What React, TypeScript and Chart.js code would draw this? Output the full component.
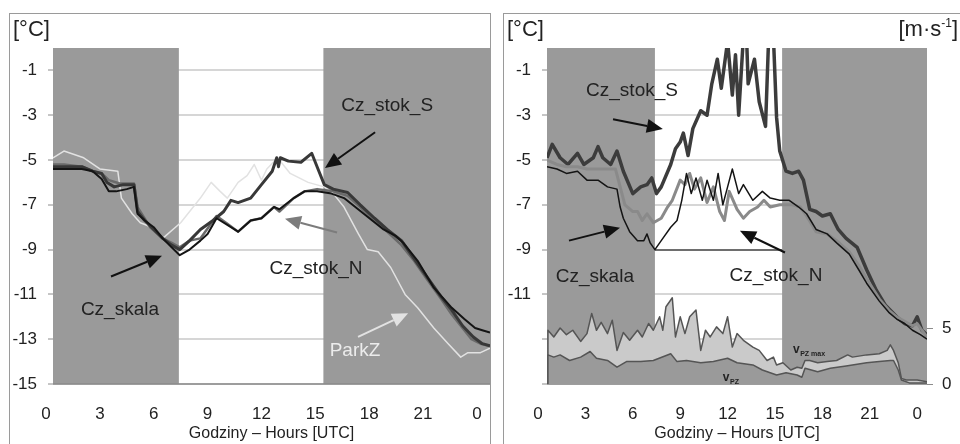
import React, { useEffect, useRef } from 'react';
import { Chart, registerables } from 'chart.js';

Chart.register(...registerables);

const FONT = '"Liberation Sans", Arial, Helvetica, sans-serif';
const BAND = '#9a9a9a';

// ---------- axes ----------
const HOUR_TICKS = [0, 3, 6, 9, 12, 15, 18, 21, 24];
const TEMP_TICKS = [-15, -13, -11, -9, -7, -5, -3, -1];
const WIND_TICKS = [0, 5];
const DAYLIGHT = [7.4, 15.45];

// ---------- left panel ----------
const L_SKALA_H = [0.39, 1, 2, 2.6, 3.1, 3.5, 3.9, 4.5, 4.9, 5.1, 5.5, 6, 6.5, 7, 7.45, 8, 8.6, 9, 9.5, 10.1, 10.7, 11.4, 12, 12.7, 13, 13.8, 14.4, 15.1, 15.9, 16.6, 17.7, 18.8, 19.5, 19.9, 20.7, 21.6, 22.6, 23.3, 23.9, 24.3, 24.73];
const L_SKALA_V = [-5.4, -5.4, -5.4, -5.5, -5.85, -6.4, -6.4, -6.3, -6.2, -7.4, -7.7, -8.0, -8.5, -8.9, -9.25, -9.0, -8.6, -8.3, -7.6, -7.9, -8.2, -7.7, -7.6, -7.1, -7.2, -6.7, -6.4, -6.4, -6.5, -6.7, -7.4, -8.1, -8.4, -8.7, -9.5, -10.7, -11.6, -12.1, -12.5, -12.6, -12.7];

const L_STOKS_H = [0.39, 1, 2, 2.6, 3.1, 3.4, 3.8, 4.3, 4.9, 5.1, 5.5, 6, 6.5, 7, 7.45, 8, 8.6, 9.3, 9.9, 10.3, 10.7, 11.4, 12, 12.6, 12.85, 12.95, 13.05, 13.5, 14.2, 14.8, 15.2, 15.5, 16, 16.8, 17.5, 18.3, 19, 19.8, 20.5, 21.2, 22, 22.6, 23.2, 23.8, 24.3, 24.73];
const L_STOKS_V = [-5.3, -5.3, -5.3, -5.5, -5.6, -6.0, -6.2, -6.1, -6.1, -7.3, -7.7, -8.1, -8.5, -8.8, -9.0, -8.6, -8.1, -7.7, -7.3, -6.8, -6.9, -6.7, -6.1, -5.5, -4.9, -5.3, -4.9, -5.05, -5.1, -4.7, -5.5, -6.1, -6.3, -6.45, -7.0, -7.6, -8.1, -8.6, -9.4, -10.2, -11.1, -11.7, -12.4, -12.9, -13.2, -13.3];

const L_STOKN_H = [0.39, 1, 2, 2.6, 3.1, 3.5, 4.1, 4.9, 5.1, 5.8, 6.5, 7, 7.45, 8, 8.6, 9.5, 10.1, 10.7, 11.4, 12, 12.7, 13, 13.8, 14.4, 15.1, 16, 16.8, 17.5, 18.3, 19, 19.8, 20.5, 21.2, 22, 22.6, 23.2, 23.7, 24.2, 24.73];
const L_STOKN_V = [-5.2, -5.2, -5.3, -5.5, -5.6, -5.9, -6.05, -6.05, -7.1, -8.0, -8.5, -8.7, -8.9, -8.6, -8.5, -7.5, -7.85, -8.2, -7.7, -7.6, -7.1, -7.3, -6.7, -6.4, -6.3, -6.4, -6.6, -7.1, -7.7, -8.2, -8.8, -9.5, -10.3, -11.2, -11.9, -12.5, -13.0, -13.2, -13.3];

const L_PARKZ_H = [0.39, 1, 2.1, 3, 4, 4.2, 4.8, 5.25, 5.9, 6.5, 7.5, 8.6, 9.2, 9.7, 10.1, 10.7, 11.2, 11.6, 12, 12.3, 12.9, 13.6, 14.6, 15.5, 16, 16.6, 17.4, 17.9, 18.5, 19.2, 20, 20.7, 21.6, 22.4, 23.1, 23.5, 24.2, 24.73];
const L_PARKZ_V = [-4.9, -4.6, -4.9, -5.4, -5.5, -6.7, -7.4, -7.8, -8.0, -8.5, -7.8, -6.7, -6.0, -6.4, -6.7, -6.0, -5.7, -5.2, -5.9, -5.4, -4.9, -5.6, -6.0, -6.2, -6.5, -7.1, -8.3, -9.0, -9.1, -9.8, -11.0, -11.6, -12.5, -13.2, -13.8, -13.6, -13.6, -13.4];

// ---------- right panel ----------
const R_STOKS_H = [0.57, 0.9, 1.4, 1.9, 2.5, 2.9, 3.5, 3.8, 4.1, 4.6, 5.0, 5.4, 6.0, 6.5, 6.9, 7.2, 7.5, 7.8, 8.4, 8.7, 9.0, 9.2, 9.5, 9.8, 10.3, 10.7, 11.0, 11.35, 11.6, 12.0, 12.3, 12.5, 12.7, 13.0, 13.2, 13.3, 13.7, 14.0, 14.4, 14.6, 14.9, 15.1, 15.3, 15.7, 16.1, 16.5, 16.8, 17.2, 17.6, 18.0, 18.5, 19.0, 19.5, 20.2, 20.8, 21.4, 22.0, 22.7, 23.2, 23.7, 24.0, 24.3, 24.62];
const R_STOKS_V = [-4.9, -4.3, -4.9, -5.2, -4.7, -5.2, -4.9, -4.4, -4.9, -5.2, -4.6, -5.5, -6.5, -6.2, -6.1, -5.8, -6.5, -6.2, -5.2, -4.5, -4.2, -3.8, -4.8, -3.6, -2.8, -3.0, -1.6, -0.5, -1.8, 0.3, -2.1, -0.3, -3.0, 0.5, 0.5, -1.6, -0.5, -2.4, -3.5, 0.5, 0.5, -3.1, -4.6, -5.5, -5.6, -5.5, -5.9, -7.2, -7.3, -7.5, -7.4, -8.1, -8.5, -8.9, -9.9, -10.8, -11.5, -12.0, -12.3, -12.4, -12.0, -12.6, -12.8];

const R_SKALA_H = [0.57, 1.2, 1.8, 2.5, 3.1, 3.8, 4.4, 5.0, 5.2, 5.4, 5.8, 6.3, 6.7, 6.9, 7.1, 7.4, 7.8, 8.4, 8.8, 9.1, 9.4, 9.7, 10.0, 10.4, 10.7, 11.1, 11.4, 11.7, 12.0, 12.3, 12.7, 13.0, 13.6, 14.2, 14.7, 15.3, 15.9, 16.5, 17.0, 17.6, 18.3, 18.9, 19.7, 20.3, 20.8, 21.6, 22.2, 22.7, 23.2, 23.7, 24.2, 24.62];
const R_SKALA_V = [-5.3, -5.4, -5.6, -5.5, -5.9, -5.9, -6.2, -6.3, -7.1, -7.6, -8.2, -8.6, -8.6, -8.3, -8.7, -9.0, -8.6, -8.0, -7.7, -6.8, -5.6, -6.5, -5.8, -6.8, -5.9, -6.8, -5.6, -7.0, -6.2, -5.4, -6.5, -6.1, -6.8, -6.4, -6.7, -6.8, -6.8, -7.1, -7.4, -8.1, -8.3, -8.7, -9.2, -9.9, -10.5, -11.3, -11.8, -12.1, -12.3, -12.6, -12.8, -13.0];

const R_STOKN_H = [0.57, 1.2, 1.8, 2.5, 3.1, 3.8, 4.4, 4.9, 5.2, 5.5, 6.0, 6.3, 6.6, 6.9, 7.3, 7.8, 8.2, 8.5, 9.0, 9.3, 9.6, 9.9, 10.3, 10.7, 11.1, 11.5, 11.8, 12.1, 12.6, 13.0, 13.4, 13.9, 14.3, 14.7, 15.3, 16.1, 16.6, 17.0, 17.6, 18.3, 18.9, 19.7, 20.3, 20.8, 21.6, 22.2, 22.7, 23.2, 23.7, 24.0, 24.3, 24.62];
const R_STOKN_V = [-5.0, -5.2, -5.3, -5.3, -5.4, -5.4, -5.4, -5.4, -6.2, -7.0, -7.3, -7.3, -7.7, -7.4, -7.8, -7.6, -7.1, -6.8, -5.9, -6.1, -5.6, -6.3, -5.8, -6.9, -6.2, -7.3, -7.7, -6.4, -7.2, -7.6, -7.3, -7.1, -6.8, -7.1, -7.0, -7.0, -7.1, -7.5, -8.2, -8.3, -8.6, -9.1, -9.7, -10.3, -11.2, -11.7, -12.0, -12.2, -12.4, -12.3, -12.6, -12.9];

const R_VMAX_H = [0.57, 0.63, 1.0, 1.4, 1.8, 2.2, 2.7, 3.1, 3.4, 3.7, 4.0, 4.4, 4.7, 5.0, 5.4, 5.8, 6.3, 6.6, 7.0, 7.3, 7.7, 7.9, 8.1, 8.5, 8.7, 9.0, 9.3, 9.6, 10.0, 10.3, 10.6, 10.9, 11.3, 11.7, 12.0, 12.3, 12.6, 13.0, 13.6, 14.0, 14.5, 14.9, 15.1, 15.5, 16.0, 16.4, 16.7, 16.9, 17.2, 17.7, 18.3, 18.9, 19.6, 19.9, 20.8, 21.6, 22.1, 22.3, 22.5, 22.8, 23.0, 23.3, 24.0, 24.62];
const R_VMAX_V = [0, 4.8, 4.2, 5.0, 4.4, 4.8, 3.8, 4.5, 6.3, 4.8, 5.5, 4.5, 5.7, 3.0, 4.6, 3.9, 4.8, 4.2, 5.4, 4.8, 6.0, 4.8, 6.9, 7.7, 4.2, 6.0, 4.5, 6.0, 6.6, 3.0, 4.8, 4.2, 5.1, 4.5, 6.0, 3.3, 4.5, 3.9, 3.3, 3.0, 2.1, 2.4, 1.7, 1.9, 1.25, 1.5, 1.4, 2.1, 2.1, 1.9, 2.0, 2.1, 2.6, 2.4, 2.6, 2.7, 3.0, 3.5, 3.0, 1.9, 0.5, 0.35, 0.35, 0.2];

const R_V_H = [0.57, 0.63, 1.0, 1.4, 2.0, 2.7, 3.3, 3.7, 4.4, 5.0, 5.6, 6.5, 7.3, 8.4, 8.8, 9.4, 10.3, 11.1, 12.0, 12.6, 13.6, 14.2, 15.1, 15.7, 16.4, 16.7, 16.9, 17.7, 18.5, 19.5, 20.8, 21.6, 22.3, 22.5, 22.8, 23.0, 23.5, 24.62];
const R_V_V = [0, 2.6, 2.4, 2.6, 2.1, 2.4, 2.9, 2.3, 2.1, 1.5, 2.0, 2.0, 2.1, 2.7, 2.0, 2.1, 1.9, 2.0, 2.3, 1.9, 1.7, 1.25, 0.8, 1.0, 0.8, 0.6, 1.4, 1.1, 1.4, 1.6, 1.9, 2.0, 2.1, 2.1, 1.25, 0.35, 0.1, 0.1];

// ---------- annotations (data coordinates) ----------
const LEFT_NOTES = [
  { text: 'Cz_stok_S', at: [19.0, -2.56], color: '#222', arrow: [18.33, -3.76, 15.54, -5.36], arrowColor: '#111' },
  { text: 'Cz_stok_N', at: [15.04, -9.84], color: '#222', arrow: [16.21, -8.24, 13.31, -7.62], arrowColor: '#7c7c7c' },
  { text: 'Cz_skala', at: [4.12, -11.67], color: '#222', arrow: [3.62, -10.2, 6.46, -9.27], arrowColor: '#111' },
  { text: 'ParkZ', at: [17.21, -13.53], color: '#ececec', arrow: [17.38, -12.9, 20.17, -11.84], arrowColor: '#e2e2e2' },
];
const RIGHT_NOTES = [
  { text: 'Cz_stok_S', at: [5.95, -1.89], color: '#222', arrow: [4.75, -3.18, 7.9, -3.62], arrowColor: '#111' },
  { text: 'Cz_skala', at: [3.6, -10.2], color: '#222', arrow: [1.96, -8.6, 5.19, -8.02], arrowColor: '#111' },
  { text: 'Cz_stok_N', at: [15.06, -10.16], color: '#222', arrow: [15.63, -9.13, 12.78, -8.16], arrowColor: '#111' },
];
const WIND_NOTES = [
  { main: 'v', sub: 'PZ max', at: [16.14, 3.1] },
  { main: 'v', sub: 'PZ', at: [11.7, 0.6] },
];

const pts = (h: number[], v: number[]) => h.map((x, i) => ({ x, y: v[i] }));

function drawArrow(ctx: CanvasRenderingContext2D, x1: number, y1: number, x2: number, y2: number, color: string) {
  const ang = Math.atan2(y2 - y1, x2 - x1);
  const head = 16, hw = 7;
  const bx = x2 - head * Math.cos(ang);
  const by = y2 - head * Math.sin(ang);
  ctx.save();
  ctx.strokeStyle = color;
  ctx.fillStyle = color;
  ctx.lineWidth = 2;
  ctx.beginPath();
  ctx.moveTo(x1, y1);
  ctx.lineTo(bx, by);
  ctx.stroke();
  ctx.beginPath();
  ctx.moveTo(x2, y2);
  ctx.lineTo(bx + hw * Math.sin(ang), by - hw * Math.cos(ang));
  ctx.lineTo(bx - hw * Math.sin(ang), by + hw * Math.cos(ang));
  ctx.closePath();
  ctx.fill();
  ctx.restore();
}

function overlay(notes: any[], wind: any[] | null, unitRight: boolean) {
  return {
    id: 'overlay',
    beforeDatasetsDraw(chart: any) {
      const { ctx, chartArea: a, scales } = chart;
      const x = scales.x;
      const d0 = x.getPixelForValue(DAYLIGHT[0]);
      const d1 = x.getPixelForValue(DAYLIGHT[1]);
      ctx.save();
      ctx.fillStyle = BAND;
      ctx.fillRect(a.left, a.top, d0 - a.left, a.bottom - a.top);
      ctx.fillRect(d1, a.top, a.right - d1, a.bottom - a.top);
      ctx.strokeStyle = '#8a8a8a';
      ctx.lineWidth = 1.5;
      ctx.beginPath();
      ctx.moveTo(a.left, a.bottom);
      ctx.lineTo(a.right, a.bottom);
      ctx.stroke();
      ctx.restore();
    },
    afterDatasetsDraw(chart: any) {
      const { ctx, scales } = chart;
      const x = scales.x, y = scales.y;
      ctx.save();
      ctx.font = `19px ${FONT}`;
      ctx.textAlign = 'center';
      ctx.textBaseline = 'middle';
      for (const n of notes) {
        const [ax1, ay1, ax2, ay2] = n.arrow;
        drawArrow(ctx, x.getPixelForValue(ax1), y.getPixelForValue(ay1), x.getPixelForValue(ax2), y.getPixelForValue(ay2), n.arrowColor);
        ctx.fillStyle = n.color;
        ctx.fillText(n.text, x.getPixelForValue(n.at[0]), y.getPixelForValue(n.at[1]));
      }
      if (wind) {
        const y1 = scales.y1;
        ctx.textAlign = 'left';
        ctx.fillStyle = '#222';
        for (const w of wind) {
          const px = x.getPixelForValue(w.at[0]);
          const py = y1.getPixelForValue(w.at[1]);
          ctx.font = `bold 12px ${FONT}`;
          ctx.fillText(w.main, px, py);
          const mw = ctx.measureText(w.main).width;
          ctx.font = `bold 7px ${FONT}`;
          ctx.fillText(w.sub, px + mw + 0.5, py + 5);
        }
      }
      ctx.restore();
    },
    afterDraw(chart: any) {
      const { ctx, chartArea: a } = chart;
      ctx.save();
      ctx.fillStyle = '#222';
      ctx.textBaseline = 'middle';
      ctx.textAlign = 'left';
      ctx.font = `22px ${FONT}`;
      const ty = a.top - 18;
      ctx.fillText('[°C]', a.left - 40, ty);
      if (unitRight) {
        const endX = a.right + 31;
        ctx.font = `22px ${FONT}`;
        const w1 = ctx.measureText('[m·s').width;
        const w3 = ctx.measureText(']').width;
        ctx.font = `12px ${FONT}`;
        const w2 = ctx.measureText('-1').width;
        let sx = endX - (w1 + w2 + w3);
        ctx.font = `22px ${FONT}`;
        ctx.fillText('[m·s', sx, ty);
        sx += w1;
        ctx.font = `12px ${FONT}`;
        ctx.fillText('-1', sx, ty - 6);
        sx += w2;
        ctx.font = `22px ${FONT}`;
        ctx.fillText(']', sx, ty);
      }
      ctx.restore();
    },
  };
}

const tickFont = { family: FONT, size: 17 };

function xScale(min: number, max: number) {
  return {
    type: 'linear',
    min,
    max,
    afterBuildTicks: (s: any) => { s.ticks = HOUR_TICKS.map((v) => ({ value: v })); },
    afterFit: (s: any) => { s.height = 60; s.paddingLeft = 0; s.paddingRight = 0; },
    grid: { display: false, drawTicks: false },
    border: { display: false },
    ticks: {
      autoSkip: false, maxRotation: 0, minRotation: 0, padding: 20, color: '#222', font: tickFont,
      callback: (v: any) => String(Number(v) % 24),
    },
    title: {
      display: true, text: 'Godziny – Hours [UTC]', color: '#222',
      font: { family: FONT, size: 16 }, padding: { top: 0, bottom: 1 },
    },
  };
}

function tempScale(hideBelow: number, darkNine: boolean) {
  return {
    type: 'linear',
    position: 'left',
    min: -15,
    max: 0,
    afterBuildTicks: (s: any) => { s.ticks = TEMP_TICKS.map((v) => ({ value: v })); },
    afterFit: (s: any) => { s.width = 43; },
    grid: {
      color: (c: any) => (darkNine && c.tick && c.tick.value === -9 ? '#6e6e6e' : '#d6d6d6'),
      lineWidth: 2, tickLength: 5, tickColor: '#8c8c8c', tickWidth: 1,
    },
    border: { display: false },
    ticks: {
      padding: 11, color: '#222', font: tickFont,
      callback: (v: any) => (Number(v) < hideBelow ? '' : String(v)),
    },
  };
}

const line = (label: string, h: number[], v: number[], color: string, width: number, extra: any = {}) => ({
  label, data: pts(h, v), borderColor: color, borderWidth: width, pointRadius: 0,
  tension: 0, fill: false, borderJoinStyle: 'round', ...extra,
});

function leftConfig(): any {
  return {
    type: 'line',
    data: {
      datasets: [
        line('Cz_skala', L_SKALA_H, L_SKALA_V, '#141414', 2),
        line('Cz_stok_S', L_STOKS_H, L_STOKS_V, '#383838', 3),
        line('Cz_stok_N', L_STOKN_H, L_STOKN_V, '#6a6a6a', 2.5),
        line('ParkZ', L_PARKZ_H, L_PARKZ_V, '#e2e2e2', 1.5),
      ],
    },
    options: {
      animation: false, responsive: false, maintainAspectRatio: false,
      layout: { padding: { top: 34, left: 0, right: 0, bottom: 0 } },
      plugins: { legend: { display: false }, tooltip: { enabled: false }, title: { display: false } },
      scales: { x: xScale(0.39, 24.73), y: tempScale(-15, false) },
    },
    plugins: [overlay(LEFT_NOTES, null, false)],
  };
}

function rightConfig(): any {
  return {
    type: 'line',
    data: {
      datasets: [
        line('Cz_skala', R_SKALA_H, R_SKALA_V, '#141414', 1.5),
        line('Cz_stok_N', R_STOKN_H, R_STOKN_V, '#8a8a8a', 3),
        line('Cz_stok_S', R_STOKS_H, R_STOKS_V, '#3c3c3c', 3.5),
        line('vPZ', R_V_H, R_V_V, '#555555', 1.5, { yAxisID: 'y1', fill: 'origin', backgroundColor: BAND }),
        line('vPZmax', R_VMAX_H, R_VMAX_V, '#555555', 1.5, { yAxisID: 'y1', fill: '-1', backgroundColor: '#cacaca' }),
      ],
    },
    options: {
      animation: false, responsive: false, maintainAspectRatio: false,
      layout: { padding: { top: 34, left: 0, right: 0, bottom: 0 } },
      plugins: { legend: { display: false }, tooltip: { enabled: false }, title: { display: false } },
      scales: {
        x: xScale(0.57, 24.62),
        y: tempScale(-11, true),
        y1: {
          type: 'linear', position: 'right', min: 0, max: 30,
          afterBuildTicks: (s: any) => { s.ticks = WIND_TICKS.map((v) => ({ value: v })); },
          afterFit: (s: any) => { s.width = 33; },
          grid: { drawOnChartArea: false, tickLength: 6, tickColor: '#8c8c8c', tickWidth: 1 },
          border: { display: false },
          ticks: { padding: 9, color: '#222', font: tickFont },
        },
      },
    },
    plugins: [overlay(RIGHT_NOTES, WIND_NOTES, true)],
  };
}

function ChartCanvas({ make, left, top, width, height }: { make: () => any; left: number; top: number; width: number; height: number }) {
  const ref = useRef<HTMLCanvasElement>(null);
  useEffect(() => {
    const chart = new Chart(ref.current as HTMLCanvasElement, make());
    return () => chart.destroy();
  }, [make]);
  return (
    <canvas
      ref={ref}
      width={width}
      height={height}
      style={{ position: 'absolute', left, top, width, height }}
    />
  );
}

export default function App() {
  return (
    <div style={{ position: 'absolute', left: 0, top: 0, width: 960, height: 444, overflow: 'hidden', background: '#fff', fontFamily: FONT }}>
      <div style={{ position: 'absolute', left: 9, top: 13, width: 482, height: 460, border: '1px solid #9a9a9a', boxSizing: 'border-box' }} />
      <div style={{ position: 'absolute', left: 503, top: 13, width: 500, height: 460, border: '1px solid #9a9a9a', boxSizing: 'border-box' }} />
      <ChartCanvas make={leftConfig} left={10} top={14} width={480} height={430} />
      <ChartCanvas make={rightConfig} left={504} top={14} width={456} height={430} />
    </div>
  );
}
